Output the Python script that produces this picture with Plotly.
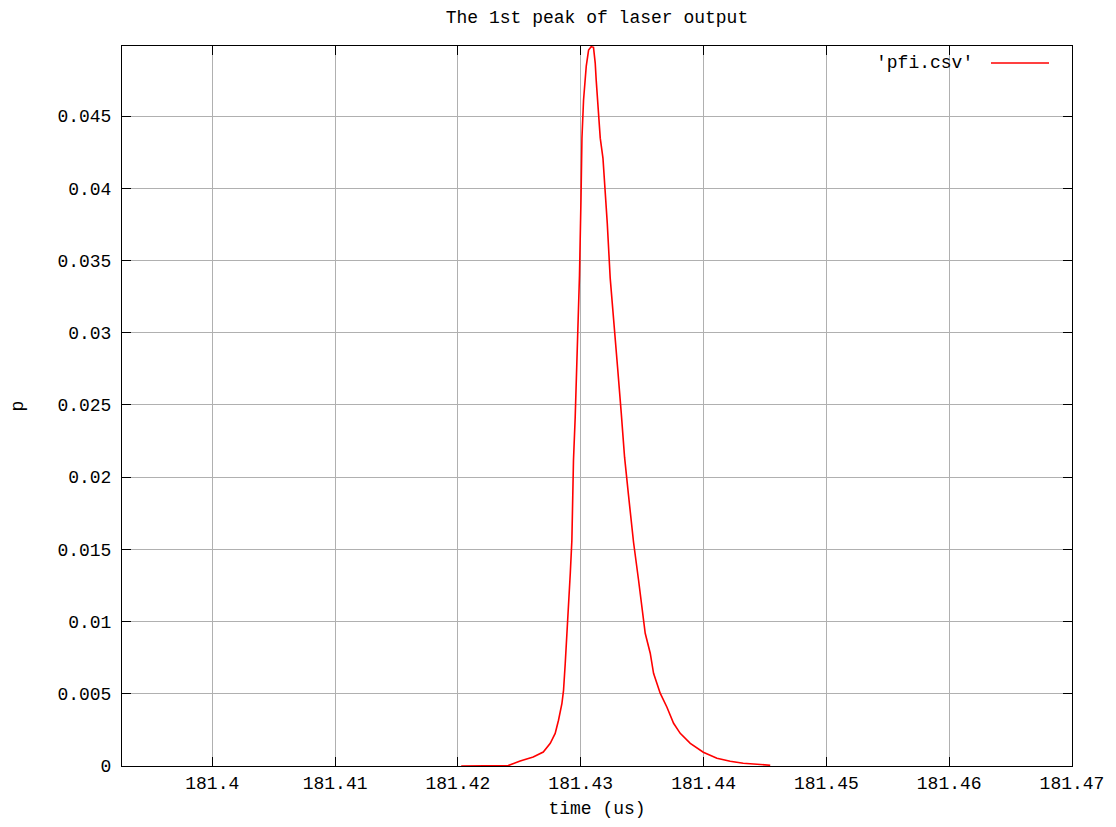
import plotly.graph_objects as go

# ---- data ----
time_us = [
    181.42027, 181.4216, 181.4241, 181.42507, 181.42613, 181.42695, 181.42752,
    181.42792, 181.42819, 181.42847, 181.4286, 181.42874, 181.42882, 181.42901,
    181.42915, 181.42928, 181.42941, 181.42955, 181.42982, 181.4299, 181.43002,
    181.4301, 181.43023, 181.43045, 181.43064, 181.43085, 181.43104, 181.43118,
    181.43126, 181.43145, 181.43159, 181.43181, 181.43192, 181.43205, 181.43216,
    181.4324, 181.43267, 181.433, 181.4333, 181.43357, 181.43389, 181.4343,
    181.43471, 181.43498, 181.43525, 181.43566, 181.43593, 181.43647, 181.43702,
    181.43756, 181.4381, 181.43892, 181.43998, 181.44109, 181.44217, 181.44323,
    181.4443, 181.44543,
]
p_values = [
    0.0, 0.00001, 0.00003, 0.00035, 0.00062, 0.00097, 0.00157,
    0.00226, 0.00317, 0.00434, 0.00524, 0.00711, 0.00822, 0.01148,
    0.01335, 0.01563, 0.02117, 0.02415, 0.03073, 0.03399, 0.03918,
    0.04347, 0.04611, 0.04846, 0.04957, 0.0498, 0.04976, 0.04867,
    0.04749, 0.04521, 0.04347, 0.04209, 0.0408, 0.03918, 0.03759,
    0.03378, 0.03122, 0.02761, 0.02443, 0.02138, 0.01875, 0.01549,
    0.01286, 0.01113, 0.00919, 0.00781, 0.00642, 0.00504, 0.00407,
    0.00296, 0.00226, 0.00157, 0.00095, 0.00053, 0.00033, 0.00019,
    0.0001, 0.00005,
]
series_name = "'pfi.csv'"
title_text = "The 1st peak of laser output"
x_title = "time (us)"
y_title = "p"

x_tick_vals = [181.40, 181.41, 181.42, 181.43, 181.44, 181.45, 181.46, 181.47]
x_tick_text = ["181.4", "181.41", "181.42", "181.43", "181.44", "181.45", "181.46", "181.47"]
y_tick_vals = [0, 0.005, 0.01, 0.015, 0.02, 0.025, 0.03, 0.035, 0.04, 0.045]
y_tick_text = ["0", "0.005", "0.01", "0.015", "0.02", "0.025", "0.03", "0.035", "0.04", "0.045"]

x_range = [181.39265, 181.47]
y_range = [0, 0.04985]

FONT = "Liberation Mono, DejaVu Sans Mono, monospace"
FS = 18
RED = "#ff0000"
GRID = "#b0b0b0"

# figure sits at an 8px page offset, so size/margins compensate
W, H = 1100, 811
ML, MT = 114, 38
PW, PH = 950, 720

fig = go.Figure()
fig.add_trace(go.Scatter(
    x=time_us, y=p_values, mode="lines", name=series_name,
    line=dict(color=RED, width=1.6), showlegend=False,
))

axis_common = dict(
    showline=True, linecolor="black", linewidth=1, mirror="ticks",
    ticks="inside", ticklen=9, tickcolor="black", tickwidth=1,
    showgrid=True, gridcolor=GRID, gridwidth=1, zeroline=False,
    tickfont=dict(family=FONT, size=FS, color="black"),
    automargin=False,
)

fig.update_xaxes(
    range=x_range, tickmode="array", tickvals=x_tick_vals, ticktext=x_tick_text,
    title=dict(text=x_title, font=dict(family=FONT, size=FS, color="black"), standoff=14),
    **axis_common,
)
fig.update_yaxes(
    range=y_range, tickmode="array", tickvals=y_tick_vals, ticktext=y_tick_text,
    title=dict(text=y_title, font=dict(family=FONT, size=FS, color="black"), standoff=33),
    ticklabelstandoff=6,
    **axis_common,
)

# gnuplot-style key: text on the left, sample line on the right
key_y = (PH - (63 - 46)) / PH
fig.add_annotation(
    xref="paper", yref="paper", x=(975 - 122) / PW, y=key_y,
    text=series_name, showarrow=False, xanchor="right", yanchor="middle",
    font=dict(family=FONT, size=FS, color="black"),
)
fig.add_shape(
    type="line", xref="paper", yref="paper",
    x0=(991 - 122) / PW, x1=(1049 - 122) / PW,
    y0=key_y, y1=key_y,
    line=dict(color=RED, width=1.6),
)

fig.update_layout(
    width=W, height=H,
    margin=dict(l=ML, r=W - ML - PW, t=MT, b=H - MT - PH),
    paper_bgcolor="white", plot_bgcolor="white",
    title=dict(text=title_text, x=0.5, xref="paper", y=1 - 9 / H, yanchor="middle",
               font=dict(family=FONT, size=FS, color="black")),
    showlegend=False,
)

fig.write_html("out.html")
